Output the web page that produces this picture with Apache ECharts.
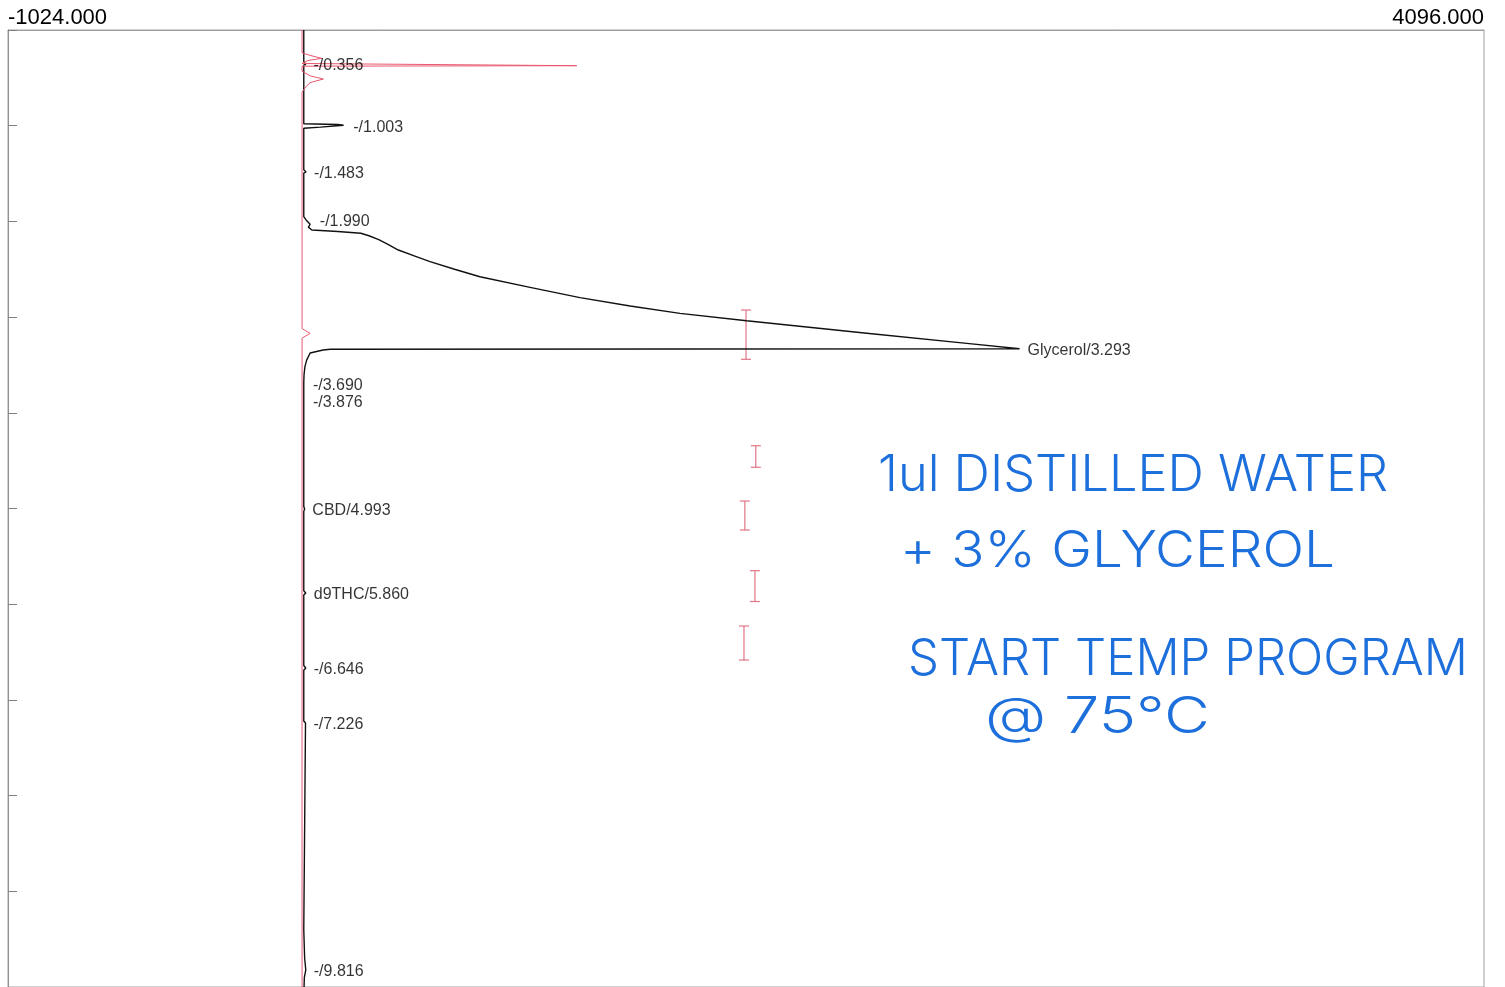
<!DOCTYPE html>
<html><head><meta charset="utf-8">
<script src="https://cdn.jsdelivr.net/npm/echarts@6/dist/echarts.min.js"></script>
<style>html,body{margin:0;padding:0;background:#fff}#c{width:1505px;height:987px}</style>
</head><body><div id="c"></div>
<script>
// ---- data (signal vs retention time, minutes) ----
const xRange = [-1024, 4096];
const xTickLabels = ["-1024.000", "4096.000"];
const timeRange = [0, 10];

const blackTime = [0, 0.33, 0.345, 0.356, 0.368, 0.98, 0.987, 0.995, 1.003, 1.015, 1.026,
  1.46, 1.475, 1.483, 1.495, 1.95, 1.985, 2.03, 2.06, 2.09,
  2.105, 2.124, 2.15, 2.19, 2.24, 2.299, 2.36, 2.421, 2.50, 2.578, 2.689, 2.797, 2.884, 2.961, 3.038, 3.169, 3.274, 3.330,
  3.336, 3.344, 3.375, 3.45, 3.518, 3.60, 3.68, 3.699, 3.72, 3.86, 3.877, 3.90,
  4.98, 5.005, 5.03, 5.86, 5.883, 5.905, 6.64, 6.667, 6.69, 7.22, 7.241, 7.26,
  9.40, 9.70, 9.822, 9.90, 10];
const blackSignal = [2, 2, 6, 9, 2, 2, 120, 140, 146, 60, 2,
  2, 7, 10, 2, 2, 10, 24, 18, 30,
  120, 200, 228, 262, 294, 330, 385, 440, 525, 613, 787, 960, 1134, 1307, 1538, 1955, 2302, 2485,
  94, 69, 24, 12, 6, 3, 2, 7, 2, 2, 7, 2,
  2, 5, 2, 2, 9, 2, 2, 9, 2, 2, 8, 2,
  2, 5, 9, 4, 3];

const redTime = [0, 0.24, 0.27, 0.296, 0.32, 0.35, 0.368, 0.373, 0.378, 0.43, 0.48, 0.512, 0.55, 0.59, 0.65, 3.12, 3.17, 3.22, 10];
const redSignal = [-4, -4, 30, 64, 15, -4, -4, 949, -4, -4, 25, 70, 24, 10, -4, -4, 24, -4, -4];

const peakNames = ["-", "-", "-", "-", "Glycerol", "-", "-", "CBD", "d9THC", "-", "-", "-"];
const peakTimes = [0.356, 1.003, 1.483, 1.990, 3.293, 3.690, 3.876, 4.993, 5.860, 6.646, 7.226, 9.816];
const labelAtTime = [0.356, 1.003, 1.483, 1.985, 3.330, 3.699, 3.877, 5.005, 5.883, 6.667, 7.241, 9.822];
const labelAtSignal = [8, 146, 10, 30, 2485, 6, 6, 4, 9, 9, 8, 9];

const eventSignal = [1536, 1570, 1532, 1567, 1529];
const eventStart = [2.926, 4.344, 4.922, 5.650, 6.228];
const eventEnd = [3.441, 4.569, 5.225, 5.972, 6.583];

const noteLines = ["1ul DISTILLED WATER", "+ 3% GLYCEROL", "START TEMP PROGRAM", "@ 75°C"];

// ---- layout ----
const noteBoxes = [[878, 476, 510], [900, 552, 435], [908, 660, 560], [985, 718, 225]];
const noteFont = '300 50px Inter';
const noteColor = '#1d6fdb';

const mc = document.createElement('canvas').getContext('2d');
mc.font = noteFont;

const chart = echarts.init(document.getElementById('c'));
const zip = (a, b) => a.map((v, i) => [b[i], v]);

chart.setOption({
  animation: false,
  backgroundColor: '#fff',
  grid: { left: 8, top: 30, right: 21, bottom: 0, show: true, borderColor: '#a0a0a0', borderWidth: 1 },
  xAxis: {
    type: 'value', position: 'top', min: xRange[0], max: xRange[1],
    axisLine: { show: true, onZero: false, lineStyle: { color: '#a0a0a0' } },
    axisTick: { show: false }, splitLine: { show: false },
    axisLabel: {
      customValues: xRange, margin: 1, fontSize: 22, color: '#000', fontFamily: 'Liberation Sans',
      alignMinLabel: 'left', alignMaxLabel: 'right',
      formatter: v => xTickLabels[xRange.indexOf(v)] || ''
    }
  },
  yAxis: {
    type: 'value', inverse: true, min: timeRange[0], max: timeRange[1], interval: 1,
    axisLine: { show: true, onZero: false, lineStyle: { color: '#909090' } },
    axisTick: { show: true, inside: true, length: 9, lineStyle: { color: '#808080' } },
    axisLabel: { show: false }, splitLine: { show: false }
  },
  graphic: noteLines.map((t, i) => {
    const w = mc.measureText(t).width;
    return {
      type: 'text', x: noteBoxes[i][0], y: noteBoxes[i][1], scaleX: noteBoxes[i][2] / w,
      style: { text: t, font: noteFont, fill: noteColor, verticalAlign: 'middle', textVerticalAlign: 'middle' }
    };
  }),
  series: [
    {
      type: 'line', data: zip(blackTime, blackSignal), showSymbol: false, symbol: 'none',
      lineStyle: { color: '#111', width: 1.4 }, z: 3
    },
    {
      type: 'line', data: zip(redTime, redSignal), showSymbol: false, symbol: 'none',
      lineStyle: { color: '#e8586e', width: 1 }, z: 4
    },
    {
      type: 'custom', z: 2,
      data: eventSignal.map((s, i) => [s, eventStart[i], eventEnd[i]]),
      renderItem: (params, api) => {
        const a = api.coord([api.value(0), api.value(1)]);
        const b = api.coord([api.value(0), api.value(2)]);
        const st = { stroke: '#e27585', lineWidth: 1.2 };
        return { type: 'group', children: [
          { type: 'line', shape: { x1: a[0], y1: a[1], x2: b[0], y2: b[1] }, style: st },
          { type: 'line', shape: { x1: a[0] - 5, y1: a[1], x2: a[0] + 5, y2: a[1] }, style: st },
          { type: 'line', shape: { x1: b[0] - 5, y1: b[1], x2: b[0] + 5, y2: b[1] }, style: st }
        ] };
      }
    },
    {
      type: 'scatter', symbolSize: 0, z: 5, silent: true,
      data: labelAtTime.map((t, i) => ({
        value: [labelAtSignal[i], t], name: peakNames[i] + '/' + peakTimes[i].toFixed(3),
        label: i === 6 ? { backgroundColor: '#fff', padding: [2, 2, 0, 0] } : undefined
      })),
      label: {
        show: true, position: 'right', distance: 8, offset: [0, 1.5], formatter: p => p.name,
        fontSize: 16, color: '#000', fontFamily: 'Liberation Sans'
      }
    }
  ]
});
</script></body></html>
